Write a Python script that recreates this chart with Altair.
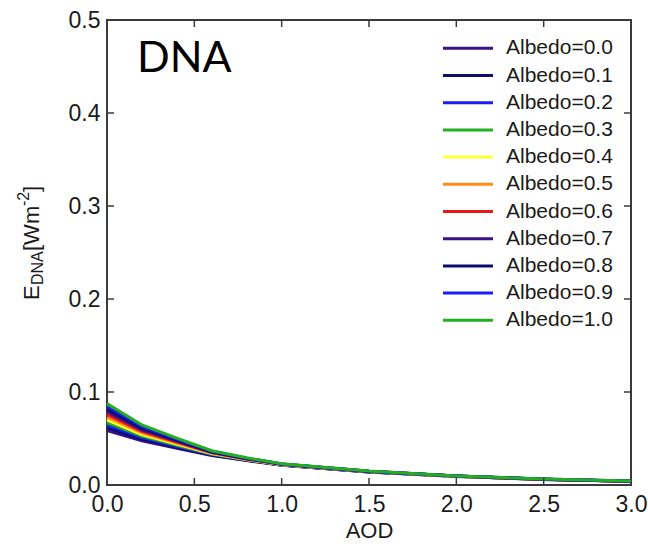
import altair as alt
import pandas as pd

# ---------------- data ----------------
aod = [0.0, 0.2, 0.4, 0.6, 0.8, 1.0, 1.5, 2.0, 2.5, 3.0]

labels = ["Albedo=0.0", "Albedo=0.1", "Albedo=0.2", "Albedo=0.3", "Albedo=0.4",
          "Albedo=0.5", "Albedo=0.6", "Albedo=0.7", "Albedo=0.8", "Albedo=0.9",
          "Albedo=1.0"]
colors = ["#3b1285", "#0c0c6e", "#1c1cf5", "#22b022", "#ffff33", "#ff8c1a",
          "#e61919", "#3b1285", "#0c0c6e", "#1c1cf5", "#22b022"]

e_a00 = [0.0585, 0.0475, 0.0395, 0.0318, 0.0262, 0.0212, 0.0140, 0.0092, 0.0060, 0.0039]
e_a01 = [0.0614, 0.0492, 0.0406, 0.0323, 0.0265, 0.0214, 0.0141, 0.0093, 0.0060, 0.0039]
e_a02 = [0.0643, 0.0509, 0.0417, 0.0328, 0.0268, 0.0215, 0.0142, 0.0093, 0.0061, 0.0040]
e_a03 = [0.0672, 0.0526, 0.0428, 0.0333, 0.0271, 0.0217, 0.0143, 0.0094, 0.0061, 0.0040]
e_a04 = [0.0701, 0.0543, 0.0439, 0.0338, 0.0274, 0.0218, 0.0144, 0.0094, 0.0062, 0.0040]
e_a05 = [0.0730, 0.0560, 0.0450, 0.0343, 0.0277, 0.0220, 0.0145, 0.0095, 0.0062, 0.0041]
e_a06 = [0.0759, 0.0577, 0.0461, 0.0348, 0.0280, 0.0222, 0.0146, 0.0096, 0.0062, 0.0041]
e_a07 = [0.0788, 0.0594, 0.0472, 0.0353, 0.0283, 0.0223, 0.0147, 0.0096, 0.0063, 0.0041]
e_a08 = [0.0817, 0.0611, 0.0483, 0.0358, 0.0286, 0.0225, 0.0148, 0.0097, 0.0063, 0.0041]
e_a09 = [0.0846, 0.0628, 0.0494, 0.0363, 0.0289, 0.0226, 0.0149, 0.0097, 0.0064, 0.0042]
e_a10 = [0.0875, 0.0645, 0.0505, 0.0368, 0.0292, 0.0228, 0.0150, 0.0098, 0.0064, 0.0042]

series = [e_a00, e_a01, e_a02, e_a03, e_a04, e_a05, e_a06, e_a07, e_a08, e_a09, e_a10]

x_ticks = [0.0, 0.5, 1.0, 1.5, 2.0, 2.5, 3.0]
y_ticks = [0.0, 0.1, 0.2, 0.3, 0.4, 0.5]
x_inner = [0.5, 1.0, 1.5, 2.0, 2.5]
y_inner = [0.1, 0.2, 0.3, 0.4]

# ---------------- layout ----------------
W, H = 524, 465
FONT = "Liberation Sans"
TXT = "#1a1a1a"
FRAME = "#3a3a3a"

rows = []
for lab, vals in zip(labels, series):
    for t, v in zip(aod, vals):
        rows.append({"aod": t, "E": v, "series": lab})
df = pd.DataFrame(rows)

xs = alt.Scale(domain=[0, 3], nice=False, zero=False)
ys = alt.Scale(domain=[0, 0.5], nice=False, zero=False)

x_axis = alt.Axis(values=x_ticks, format=".1f", title="AOD", ticks=False, tickSize=0,
                  domain=False, grid=False, labelFlush=False, labelOverlap=False,
                  labelFont=FONT, labelFontSize=23,
                  labelColor=TXT, labelPadding=8, titleFont=FONT, titleFontSize=22,
                  titleFontWeight="normal", titleColor=TXT, titlePadding=4)
y_axis = alt.Axis(values=y_ticks, format=".1f", title=None, ticks=False, tickSize=0,
                  domain=False, grid=False, labelFlush=False, labelOverlap=False,
                  labelFont=FONT, labelFontSize=23,
                  labelColor=TXT, labelPadding=7)

lines = alt.Chart(df).mark_line(strokeWidth=3).encode(
    x=alt.X("aod:Q", scale=xs, axis=x_axis),
    y=alt.Y("E:Q", scale=ys, axis=y_axis),
    color=alt.Color("series:N", scale=alt.Scale(domain=labels, range=colors), legend=None),
    detail="series:N",
)

xt = pd.DataFrame({"aod": x_inner})
yt = pd.DataFrame({"E": y_inner})
tick_style = dict(color=FRAME, strokeWidth=1.5)
t_bottom = alt.Chart(xt).mark_rule(**tick_style).encode(
    x="aod:Q", y=alt.value(H), y2=alt.value(H - 7))
t_top = alt.Chart(xt).mark_rule(**tick_style).encode(
    x="aod:Q", y=alt.value(0), y2=alt.value(7))
t_left = alt.Chart(yt).mark_rule(**tick_style).encode(
    y="E:Q", x=alt.value(0), x2=alt.value(7))
t_right = alt.Chart(yt).mark_rule(**tick_style).encode(
    y="E:Q", x=alt.value(W), x2=alt.value(W - 7))

# legend (manual)
leg_df = pd.DataFrame({"label": labels, "col": colors, "i": list(range(len(labels)))})
leg_base = alt.Chart(leg_df).transform_calculate(ly="28.3 + 27.2 * datum.i")
leg_lines = leg_base.mark_rule(strokeWidth=3).encode(
    x=alt.value(336), x2=alt.value(386),
    y=alt.Y("ly:Q", scale=None, axis=None),
    color=alt.Color("col:N", scale=None, legend=None),
)
leg_text = leg_base.mark_text(font=FONT, fontSize=21, align="left", baseline="middle",
                              color=TXT).encode(
    x=alt.value(399),
    y=alt.Y("ly:Q", scale=None, axis=None),
    text="label:N",
)

one = pd.DataFrame({"k": [0]})
dna = alt.Chart(one).mark_text(font="Lato", fontSize=43, align="left",
                               baseline="alphabetic", color="#000000").encode(
    x=alt.value(30), y=alt.value(52), text=alt.value("DNA"))


def ytitle(txt, fs, bx, by):
    return alt.Chart(one).mark_text(font=FONT, fontSize=fs, align="left",
                                    baseline="alphabetic", angle=270, color=TXT).encode(
        x=alt.value(bx - 107), y=alt.value(by - 20), text=alt.value(txt))


yt_parts = [
    ytitle("E", 22, 39, 300),
    ytitle("DNA", 16, 43, 285),
    ytitle("[Wm", 22, 39, 251),
    ytitle("-2", 16, 29, 206),
    ytitle("]", 22, 39, 192),
]

chart = alt.layer(lines, t_bottom, t_top, t_left, t_right, leg_lines, leg_text, dna,
                  *yt_parts).properties(
    width=W, height=H, autosize="none",
    padding={"left": 107, "top": 20, "right": 17, "bottom": 72},
    background="white",
).configure_view(stroke=FRAME, strokeWidth=2)

chart.save("out.html", embed_options={"renderer": "svg", "actions": False})
